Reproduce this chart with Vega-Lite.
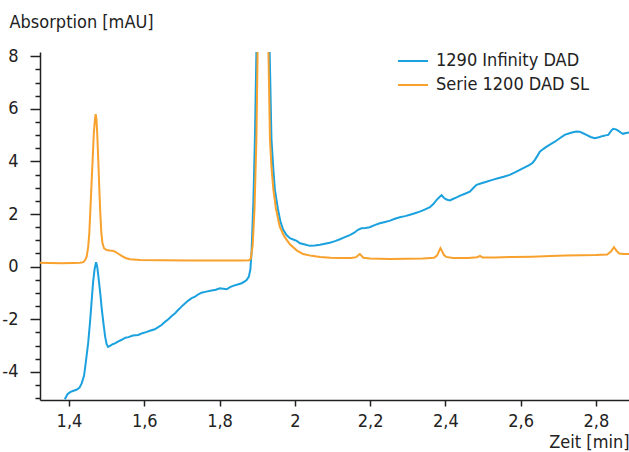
{
  "$schema": "https://vega.github.io/schema/vega-lite/v6.json",
  "width": 589,
  "height": 348,
  "autosize": {"type": "none"},
  "padding": {"left": 40, "top": 52, "right": 0, "bottom": 52},
  "config": {
    "view": {"stroke": null},
    "font": "DejaVu Sans Condensed",
    "axis": {"labelFont": "DejaVu Sans Condensed", "titleFont": "DejaVu Sans Condensed", "domainColor": "#222", "tickColor": "#222", "labelColor": "#222", "titleColor": "#222", "grid": false, "domainWidth": 1.5, "tickWidth": 1.5},
    "legend": {"labelFont": "DejaVu Sans Condensed"}
  },
  "data": {"values": [
    {"s":"1290 Infinity DAD","t":1.389,"v":-5.04},{"s":"1290 Infinity DAD","t":1.396,"v":-4.85},{"s":"1290 Infinity DAD","t":1.403,"v":-4.77},{"s":"1290 Infinity DAD","t":1.412,"v":-4.72},{"s":"1290 Infinity DAD","t":1.42,"v":-4.68},{"s":"1290 Infinity DAD","t":1.428,"v":-4.6},{"s":"1290 Infinity DAD","t":1.434,"v":-4.43},{"s":"1290 Infinity DAD","t":1.44,"v":-4.15},{"s":"1290 Infinity DAD","t":1.445,"v":-3.6},{"s":"1290 Infinity DAD","t":1.451,"v":-2.9},{"s":"1290 Infinity DAD","t":1.456,"v":-2.1},{"s":"1290 Infinity DAD","t":1.46,"v":-1.35},{"s":"1290 Infinity DAD","t":1.464,"v":-0.6},{"s":"1290 Infinity DAD","t":1.468,"v":-0.1},{"s":"1290 Infinity DAD","t":1.472,"v":0.17},{"s":"1290 Infinity DAD","t":1.475,"v":0.0},{"s":"1290 Infinity DAD","t":1.478,"v":-0.35},{"s":"1290 Infinity DAD","t":1.483,"v":-1.0},{"s":"1290 Infinity DAD","t":1.487,"v":-1.6},{"s":"1290 Infinity DAD","t":1.492,"v":-2.2},{"s":"1290 Infinity DAD","t":1.496,"v":-2.65},{"s":"1290 Infinity DAD","t":1.5,"v":-2.95},{"s":"1290 Infinity DAD","t":1.504,"v":-3.05},{"s":"1290 Infinity DAD","t":1.51,"v":-3.0},{"s":"1290 Infinity DAD","t":1.516,"v":-2.95},{"s":"1290 Infinity DAD","t":1.522,"v":-2.92},{"s":"1290 Infinity DAD","t":1.53,"v":-2.85},{"s":"1290 Infinity DAD","t":1.54,"v":-2.78},{"s":"1290 Infinity DAD","t":1.55,"v":-2.7},{"s":"1290 Infinity DAD","t":1.558,"v":-2.68},{"s":"1290 Infinity DAD","t":1.57,"v":-2.62},{"s":"1290 Infinity DAD","t":1.584,"v":-2.6},{"s":"1290 Infinity DAD","t":1.595,"v":-2.53},{"s":"1290 Infinity DAD","t":1.605,"v":-2.49},{"s":"1290 Infinity DAD","t":1.615,"v":-2.44},{"s":"1290 Infinity DAD","t":1.628,"v":-2.38},{"s":"1290 Infinity DAD","t":1.637,"v":-2.3},{"s":"1290 Infinity DAD","t":1.646,"v":-2.22},{"s":"1290 Infinity DAD","t":1.655,"v":-2.1},{"s":"1290 Infinity DAD","t":1.664,"v":-2.0},{"s":"1290 Infinity DAD","t":1.673,"v":-1.88},{"s":"1290 Infinity DAD","t":1.682,"v":-1.77},{"s":"1290 Infinity DAD","t":1.69,"v":-1.65},{"s":"1290 Infinity DAD","t":1.699,"v":-1.52},{"s":"1290 Infinity DAD","t":1.708,"v":-1.4},{"s":"1290 Infinity DAD","t":1.717,"v":-1.29},{"s":"1290 Infinity DAD","t":1.726,"v":-1.2},{"s":"1290 Infinity DAD","t":1.735,"v":-1.14},{"s":"1290 Infinity DAD","t":1.744,"v":-1.05},{"s":"1290 Infinity DAD","t":1.752,"v":-0.99},{"s":"1290 Infinity DAD","t":1.765,"v":-0.95},{"s":"1290 Infinity DAD","t":1.779,"v":-0.91},{"s":"1290 Infinity DAD","t":1.79,"v":-0.88},{"s":"1290 Infinity DAD","t":1.801,"v":-0.82},{"s":"1290 Infinity DAD","t":1.81,"v":-0.84},{"s":"1290 Infinity DAD","t":1.819,"v":-0.86},{"s":"1290 Infinity DAD","t":1.828,"v":-0.78},{"s":"1290 Infinity DAD","t":1.836,"v":-0.73},{"s":"1290 Infinity DAD","t":1.848,"v":-0.68},{"s":"1290 Infinity DAD","t":1.859,"v":-0.63},{"s":"1290 Infinity DAD","t":1.867,"v":-0.56},{"s":"1290 Infinity DAD","t":1.872,"v":-0.51},{"s":"1290 Infinity DAD","t":1.878,"v":-0.38},{"s":"1290 Infinity DAD","t":1.882,"v":-0.1},{"s":"1290 Infinity DAD","t":1.885,"v":0.51},{"s":"1290 Infinity DAD","t":1.89,"v":2.5},{"s":"1290 Infinity DAD","t":1.894,"v":4.85},{"s":"1290 Infinity DAD","t":1.899,"v":9},{"s":"1290 Infinity DAD","t":1.915,"v":200},{"s":"1290 Infinity DAD","t":1.932,"v":9},{"s":"1290 Infinity DAD","t":1.938,"v":4.85},{"s":"1290 Infinity DAD","t":1.943,"v":3.7},{"s":"1290 Infinity DAD","t":1.947,"v":2.94},{"s":"1290 Infinity DAD","t":1.955,"v":2.2},{"s":"1290 Infinity DAD","t":1.962,"v":1.7},{"s":"1290 Infinity DAD","t":1.969,"v":1.41},{"s":"1290 Infinity DAD","t":1.978,"v":1.2},{"s":"1290 Infinity DAD","t":1.987,"v":1.08},{"s":"1290 Infinity DAD","t":1.996,"v":1.03},{"s":"1290 Infinity DAD","t":2.005,"v":0.98},{"s":"1290 Infinity DAD","t":2.014,"v":0.89},{"s":"1290 Infinity DAD","t":2.027,"v":0.84},{"s":"1290 Infinity DAD","t":2.04,"v":0.79},{"s":"1290 Infinity DAD","t":2.053,"v":0.8},{"s":"1290 Infinity DAD","t":2.067,"v":0.83},{"s":"1290 Infinity DAD","t":2.08,"v":0.87},{"s":"1290 Infinity DAD","t":2.093,"v":0.91},{"s":"1290 Infinity DAD","t":2.107,"v":0.97},{"s":"1290 Infinity DAD","t":2.12,"v":1.04},{"s":"1290 Infinity DAD","t":2.133,"v":1.12},{"s":"1290 Infinity DAD","t":2.146,"v":1.2},{"s":"1290 Infinity DAD","t":2.157,"v":1.28},{"s":"1290 Infinity DAD","t":2.168,"v":1.4},{"s":"1290 Infinity DAD","t":2.177,"v":1.46},{"s":"1290 Infinity DAD","t":2.188,"v":1.47},{"s":"1290 Infinity DAD","t":2.199,"v":1.5},{"s":"1290 Infinity DAD","t":2.212,"v":1.58},{"s":"1290 Infinity DAD","t":2.226,"v":1.65},{"s":"1290 Infinity DAD","t":2.24,"v":1.7},{"s":"1290 Infinity DAD","t":2.253,"v":1.75},{"s":"1290 Infinity DAD","t":2.266,"v":1.82},{"s":"1290 Infinity DAD","t":2.279,"v":1.88},{"s":"1290 Infinity DAD","t":2.293,"v":1.92},{"s":"1290 Infinity DAD","t":2.306,"v":1.97},{"s":"1290 Infinity DAD","t":2.319,"v":2.03},{"s":"1290 Infinity DAD","t":2.332,"v":2.09},{"s":"1290 Infinity DAD","t":2.345,"v":2.17},{"s":"1290 Infinity DAD","t":2.359,"v":2.26},{"s":"1290 Infinity DAD","t":2.368,"v":2.38},{"s":"1290 Infinity DAD","t":2.377,"v":2.54},{"s":"1290 Infinity DAD","t":2.384,"v":2.64},{"s":"1290 Infinity DAD","t":2.39,"v":2.72},{"s":"1290 Infinity DAD","t":2.396,"v":2.62},{"s":"1290 Infinity DAD","t":2.403,"v":2.55},{"s":"1290 Infinity DAD","t":2.412,"v":2.52},{"s":"1290 Infinity DAD","t":2.42,"v":2.57},{"s":"1290 Infinity DAD","t":2.43,"v":2.63},{"s":"1290 Infinity DAD","t":2.438,"v":2.69},{"s":"1290 Infinity DAD","t":2.452,"v":2.77},{"s":"1290 Infinity DAD","t":2.465,"v":2.85},{"s":"1290 Infinity DAD","t":2.475,"v":3.0},{"s":"1290 Infinity DAD","t":2.483,"v":3.11},{"s":"1290 Infinity DAD","t":2.496,"v":3.17},{"s":"1290 Infinity DAD","t":2.509,"v":3.23},{"s":"1290 Infinity DAD","t":2.525,"v":3.3},{"s":"1290 Infinity DAD","t":2.54,"v":3.36},{"s":"1290 Infinity DAD","t":2.555,"v":3.42},{"s":"1290 Infinity DAD","t":2.571,"v":3.49},{"s":"1290 Infinity DAD","t":2.585,"v":3.58},{"s":"1290 Infinity DAD","t":2.598,"v":3.68},{"s":"1290 Infinity DAD","t":2.611,"v":3.77},{"s":"1290 Infinity DAD","t":2.624,"v":3.87},{"s":"1290 Infinity DAD","t":2.632,"v":3.95},{"s":"1290 Infinity DAD","t":2.638,"v":4.06},{"s":"1290 Infinity DAD","t":2.645,"v":4.22},{"s":"1290 Infinity DAD","t":2.651,"v":4.37},{"s":"1290 Infinity DAD","t":2.66,"v":4.47},{"s":"1290 Infinity DAD","t":2.669,"v":4.56},{"s":"1290 Infinity DAD","t":2.68,"v":4.66},{"s":"1290 Infinity DAD","t":2.691,"v":4.75},{"s":"1290 Infinity DAD","t":2.704,"v":4.88},{"s":"1290 Infinity DAD","t":2.717,"v":5.01},{"s":"1290 Infinity DAD","t":2.728,"v":5.06},{"s":"1290 Infinity DAD","t":2.739,"v":5.11},{"s":"1290 Infinity DAD","t":2.748,"v":5.14},{"s":"1290 Infinity DAD","t":2.757,"v":5.13},{"s":"1290 Infinity DAD","t":2.766,"v":5.07},{"s":"1290 Infinity DAD","t":2.775,"v":5.01},{"s":"1290 Infinity DAD","t":2.786,"v":4.93},{"s":"1290 Infinity DAD","t":2.797,"v":4.88},{"s":"1290 Infinity DAD","t":2.808,"v":4.92},{"s":"1290 Infinity DAD","t":2.819,"v":4.97},{"s":"1290 Infinity DAD","t":2.826,"v":4.99},{"s":"1290 Infinity DAD","t":2.833,"v":5.01},{"s":"1290 Infinity DAD","t":2.84,"v":5.15},{"s":"1290 Infinity DAD","t":2.846,"v":5.24},{"s":"1290 Infinity DAD","t":2.853,"v":5.22},{"s":"1290 Infinity DAD","t":2.859,"v":5.17},{"s":"1290 Infinity DAD","t":2.866,"v":5.1},{"s":"1290 Infinity DAD","t":2.872,"v":5.05},{"s":"1290 Infinity DAD","t":2.88,"v":5.08},{"s":"1290 Infinity DAD","t":2.888,"v":5.1},
    {"s":"Serie 1200 DAD SL","t":1.323,"v":0.15},{"s":"Serie 1200 DAD SL","t":1.35,"v":0.14},{"s":"Serie 1200 DAD SL","t":1.38,"v":0.13},{"s":"Serie 1200 DAD SL","t":1.41,"v":0.14},{"s":"Serie 1200 DAD SL","t":1.43,"v":0.15},{"s":"Serie 1200 DAD SL","t":1.438,"v":0.17},{"s":"Serie 1200 DAD SL","t":1.443,"v":0.25},{"s":"Serie 1200 DAD SL","t":1.447,"v":0.38},{"s":"Serie 1200 DAD SL","t":1.451,"v":0.75},{"s":"Serie 1200 DAD SL","t":1.454,"v":1.27},{"s":"Serie 1200 DAD SL","t":1.457,"v":2.2},{"s":"Serie 1200 DAD SL","t":1.46,"v":3.17},{"s":"Serie 1200 DAD SL","t":1.463,"v":4.1},{"s":"Serie 1200 DAD SL","t":1.466,"v":5.07},{"s":"Serie 1200 DAD SL","t":1.469,"v":5.6},{"s":"Serie 1200 DAD SL","t":1.471,"v":5.8},{"s":"Serie 1200 DAD SL","t":1.473,"v":5.6},{"s":"Serie 1200 DAD SL","t":1.475,"v":5.07},{"s":"Serie 1200 DAD SL","t":1.478,"v":4.0},{"s":"Serie 1200 DAD SL","t":1.48,"v":3.17},{"s":"Serie 1200 DAD SL","t":1.483,"v":2.1},{"s":"Serie 1200 DAD SL","t":1.486,"v":1.27},{"s":"Serie 1200 DAD SL","t":1.489,"v":0.9},{"s":"Serie 1200 DAD SL","t":1.493,"v":0.7},{"s":"Serie 1200 DAD SL","t":1.5,"v":0.63},{"s":"Serie 1200 DAD SL","t":1.509,"v":0.61},{"s":"Serie 1200 DAD SL","t":1.516,"v":0.6},{"s":"Serie 1200 DAD SL","t":1.522,"v":0.57},{"s":"Serie 1200 DAD SL","t":1.53,"v":0.5},{"s":"Serie 1200 DAD SL","t":1.54,"v":0.41},{"s":"Serie 1200 DAD SL","t":1.55,"v":0.33},{"s":"Serie 1200 DAD SL","t":1.562,"v":0.28},{"s":"Serie 1200 DAD SL","t":1.589,"v":0.25},{"s":"Serie 1200 DAD SL","t":1.65,"v":0.24},{"s":"Serie 1200 DAD SL","t":1.72,"v":0.23},{"s":"Serie 1200 DAD SL","t":1.8,"v":0.23},{"s":"Serie 1200 DAD SL","t":1.86,"v":0.23},{"s":"Serie 1200 DAD SL","t":1.878,"v":0.24},{"s":"Serie 1200 DAD SL","t":1.883,"v":0.3},{"s":"Serie 1200 DAD SL","t":1.888,"v":0.8},{"s":"Serie 1200 DAD SL","t":1.893,"v":2.2},{"s":"Serie 1200 DAD SL","t":1.898,"v":4.85},{"s":"Serie 1200 DAD SL","t":1.902,"v":9},{"s":"Serie 1200 DAD SL","t":1.915,"v":200},{"s":"Serie 1200 DAD SL","t":1.929,"v":9},{"s":"Serie 1200 DAD SL","t":1.934,"v":4.85},{"s":"Serie 1200 DAD SL","t":1.938,"v":3.8},{"s":"Serie 1200 DAD SL","t":1.943,"v":2.94},{"s":"Serie 1200 DAD SL","t":1.95,"v":2.2},{"s":"Serie 1200 DAD SL","t":1.96,"v":1.52},{"s":"Serie 1200 DAD SL","t":1.972,"v":1.15},{"s":"Serie 1200 DAD SL","t":1.987,"v":0.85},{"s":"Serie 1200 DAD SL","t":2.005,"v":0.62},{"s":"Serie 1200 DAD SL","t":2.022,"v":0.48},{"s":"Serie 1200 DAD SL","t":2.045,"v":0.41},{"s":"Serie 1200 DAD SL","t":2.067,"v":0.37},{"s":"Serie 1200 DAD SL","t":2.095,"v":0.34},{"s":"Serie 1200 DAD SL","t":2.12,"v":0.33},{"s":"Serie 1200 DAD SL","t":2.15,"v":0.33},{"s":"Serie 1200 DAD SL","t":2.163,"v":0.36},{"s":"Serie 1200 DAD SL","t":2.17,"v":0.45},{"s":"Serie 1200 DAD SL","t":2.173,"v":0.48},{"s":"Serie 1200 DAD SL","t":2.177,"v":0.42},{"s":"Serie 1200 DAD SL","t":2.182,"v":0.34},{"s":"Serie 1200 DAD SL","t":2.2,"v":0.31},{"s":"Serie 1200 DAD SL","t":2.25,"v":0.29},{"s":"Serie 1200 DAD SL","t":2.3,"v":0.3},{"s":"Serie 1200 DAD SL","t":2.34,"v":0.31},{"s":"Serie 1200 DAD SL","t":2.37,"v":0.34},{"s":"Serie 1200 DAD SL","t":2.378,"v":0.42},{"s":"Serie 1200 DAD SL","t":2.383,"v":0.58},{"s":"Serie 1200 DAD SL","t":2.387,"v":0.7},{"s":"Serie 1200 DAD SL","t":2.391,"v":0.6},{"s":"Serie 1200 DAD SL","t":2.396,"v":0.45},{"s":"Serie 1200 DAD SL","t":2.402,"v":0.37},{"s":"Serie 1200 DAD SL","t":2.42,"v":0.33},{"s":"Serie 1200 DAD SL","t":2.46,"v":0.33},{"s":"Serie 1200 DAD SL","t":2.485,"v":0.36},{"s":"Serie 1200 DAD SL","t":2.492,"v":0.41},{"s":"Serie 1200 DAD SL","t":2.499,"v":0.35},{"s":"Serie 1200 DAD SL","t":2.53,"v":0.35},{"s":"Serie 1200 DAD SL","t":2.58,"v":0.37},{"s":"Serie 1200 DAD SL","t":2.63,"v":0.38},{"s":"Serie 1200 DAD SL","t":2.68,"v":0.4},{"s":"Serie 1200 DAD SL","t":2.72,"v":0.42},{"s":"Serie 1200 DAD SL","t":2.76,"v":0.43},{"s":"Serie 1200 DAD SL","t":2.8,"v":0.44},{"s":"Serie 1200 DAD SL","t":2.83,"v":0.46},{"s":"Serie 1200 DAD SL","t":2.84,"v":0.57},{"s":"Serie 1200 DAD SL","t":2.848,"v":0.74},{"s":"Serie 1200 DAD SL","t":2.855,"v":0.6},{"s":"Serie 1200 DAD SL","t":2.862,"v":0.5},{"s":"Serie 1200 DAD SL","t":2.875,"v":0.48},{"s":"Serie 1200 DAD SL","t":2.888,"v":0.48}
  ]},
  "mark": {"type": "line", "clip": true, "strokeWidth": 2},
  "encoding": {
    "x": {"field": "t", "type": "quantitative",
      "scale": {"domain": [1.323, 2.888], "nice": false, "zero": false},
      "axis": {"values": [1.4, 1.6, 1.8, 2.0, 2.2, 2.4, 2.6, 2.8], "labelExpr": "replace(format(datum.value, '~g'), '.', ',')",
        "tickSize": 6, "labelPadding": 6, "labelFontSize": 18, "labelFlush": false,
        "title": "Zeit [min]", "titleFontSize": 18, "titleFontWeight": "normal", "titleAnchor": "end", "titleAlign": "right", "titleBaseline": "alphabetic", "titleX": 589, "titleY": 47}},
    "y": {"field": "v", "type": "quantitative",
      "scale": {"domain": [-5.07, 8.16], "nice": false, "zero": false},
      "axis": {"values": [-5, -4.5, -4, -3.5, -3, -2.5, -2, -1.5, -1, -0.5, 0, 0.5, 1, 1.5, 2, 2.5, 3, 3.5, 4, 4.5, 5, 5.5, 6, 6.5, 7, 7.5, 8],
        "labelExpr": "datum.value % 2 === 0 ? '' + datum.value : ''",
        "tickSize": {"condition": {"test": "datum.value % 2 === 0", "value": 10}, "value": 5},
        "labelPadding": 12, "labelFontSize": 18, "labelOverlap": false, "labelFlush": false,
        "title": "Absorption [mAU]", "titleFontSize": 18, "titleFontWeight": "normal", "titleAngle": 0, "titleAlign": "left", "titleBaseline": "alphabetic", "titleX": -31, "titleY": -25}},
    "color": {"field": "s", "type": "nominal",
      "scale": {"domain": ["1290 Infinity DAD", "Serie 1200 DAD SL"], "range": ["#1aa1de", "#f8a12d"]},
      "legend": {"title": null, "orient": "none", "legendX": 362, "legendY": -2, "symbolType": "M-1.5,0H1.5", "symbolSize": 400, "symbolStrokeWidth": 2, "labelFontSize": 18, "labelColor": "#222", "labelOffset": 12, "rowPadding": 4}}
  }
}
